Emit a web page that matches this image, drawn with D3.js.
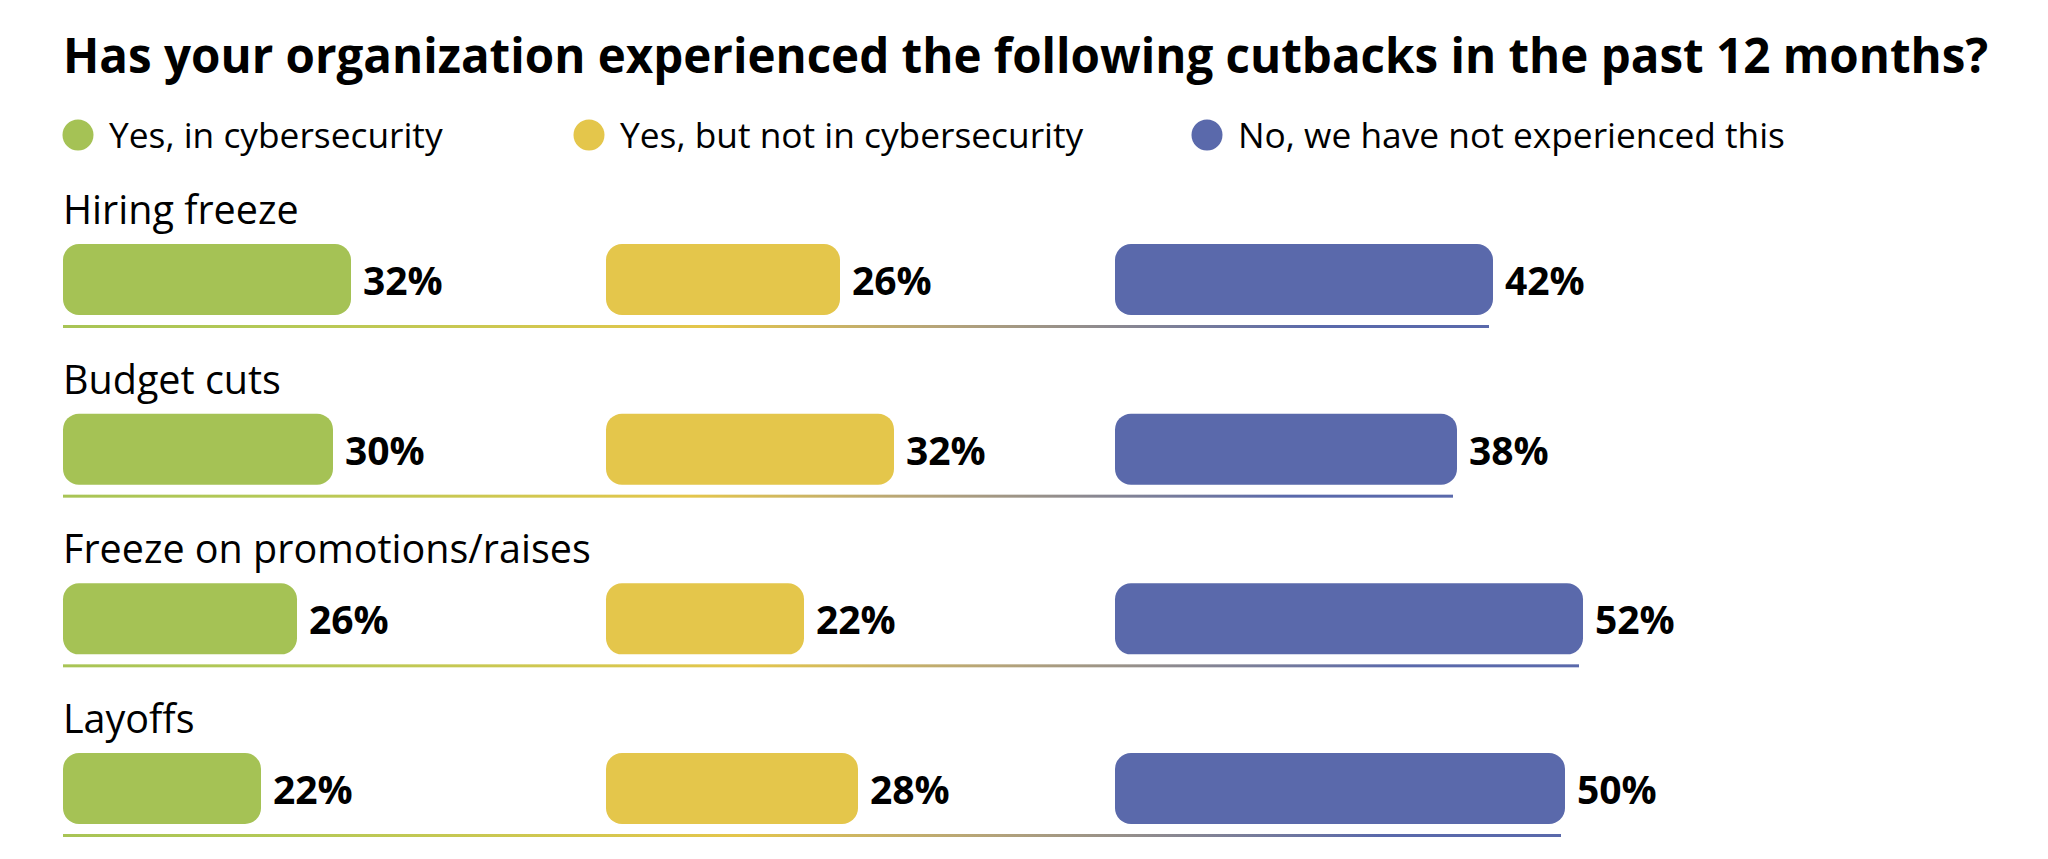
<!DOCTYPE html>
<html>
<head>
<meta charset="utf-8">
<script src="https://cdn.jsdelivr.net/npm/d3@7"></script>
<style>
  html, body { margin: 0; padding: 0; background: #ffffff; }
  svg { display: block; }
  text { font-family: "Open Sans", "Noto Sans", sans-serif; fill: #000; }
</style>
</head>
<body>
<svg id="chart" width="2048" height="859"></svg>
<script>
const title = "Has your organization experienced the following cutbacks in the past 12 months?";
const categories = ["Hiring freeze", "Budget cuts", "Freeze on promotions/raises", "Layoffs"];
const seriesNames = ["Yes, in cybersecurity", "Yes, but not in cybersecurity", "No, we have not experienced this"];
const yesInCyber = [32, 30, 26, 22];
const yesNotInCyber = [26, 32, 22, 28];
const notExperienced = [42, 38, 52, 50];
const seriesColors = ["#a5c255", "#e4c64b", "#5a69ab"];

const seriesValues = [yesInCyber, yesNotInCyber, notExperienced];

const svg = d3.select("#chart");

// scales
const x = d3.scaleLinear().domain([0, 100]).range([0, 900]);
const colStart = d3.scaleOrdinal().domain(seriesNames).range([63, 606, 1115]);
const legendX = d3.scaleOrdinal().domain(seriesNames).range([78, 589, 1207]);
const color = d3.scaleOrdinal().domain(seriesNames).range(seriesColors);
const rowY = d3.scalePoint().domain(categories).range([244, 753]);
const barH = 71;

// title
svg.append("text")
  .attr("x", 63).attr("y", 73)
  .attr("font-size", 47.5).attr("font-weight", 700)
  .text(title);

// legend
const leg = svg.append("g").selectAll("g").data(seriesNames).join("g")
  .attr("transform", d => `translate(${legendX(d)},135)`);
leg.append("circle").attr("r", 15.5).attr("fill", d => color(d));
leg.append("text").attr("x", 31).attr("y", 13)
  .attr("font-size", 35.3).text(d => d);

// gradient
const defs = svg.append("defs");
const grad = defs.append("linearGradient").attr("id", "lineGrad")
  .attr("x1", "0%").attr("x2", "100%").attr("y1", "0%").attr("y2", "0%");
grad.append("stop").attr("offset", "0%").attr("stop-color", "#a8c455");
grad.append("stop").attr("offset", "15%").attr("stop-color", "#b4c957");
grad.append("stop").attr("offset", "45%").attr("stop-color", "#e4c64b");
grad.append("stop").attr("offset", "62%").attr("stop-color", "#b4a37a");
grad.append("stop").attr("offset", "88%").attr("stop-color", "#5a69ab");
grad.append("stop").attr("offset", "100%").attr("stop-color", "#5a69ab");

// rows
const rows = svg.append("g").selectAll("g").data(categories).join("g")
  .attr("transform", d => `translate(0,${rowY(d)})`);

rows.append("text")
  .attr("x", 63).attr("y", -20)
  .attr("font-size", 39.5)
  .text(d => d);

rows.append("rect")
  .attr("x", 63)
  .attr("y", barH + 10)
  .attr("width", (d, i) => colStart(seriesNames[2]) + x(notExperienced[i]) - 4 - 63)
  .attr("height", 3)
  .attr("fill", "url(#lineGrad)");

seriesNames.forEach((s, si) => {
  rows.append("rect")
    .attr("x", colStart(s))
    .attr("y", 0)
    .attr("width", (d, i) => x(seriesValues[si][i]))
    .attr("height", barH)
    .attr("rx", 16).attr("ry", 16)
    .attr("fill", color(s));
  rows.append("text")
    .attr("x", (d, i) => colStart(s) + x(seriesValues[si][i]) + 12)
    .attr("y", 51)
    .attr("font-size", 39).attr("font-weight", 700)
    .text((d, i) => seriesValues[si][i] + "%");
});
</script>
</body>
</html>
